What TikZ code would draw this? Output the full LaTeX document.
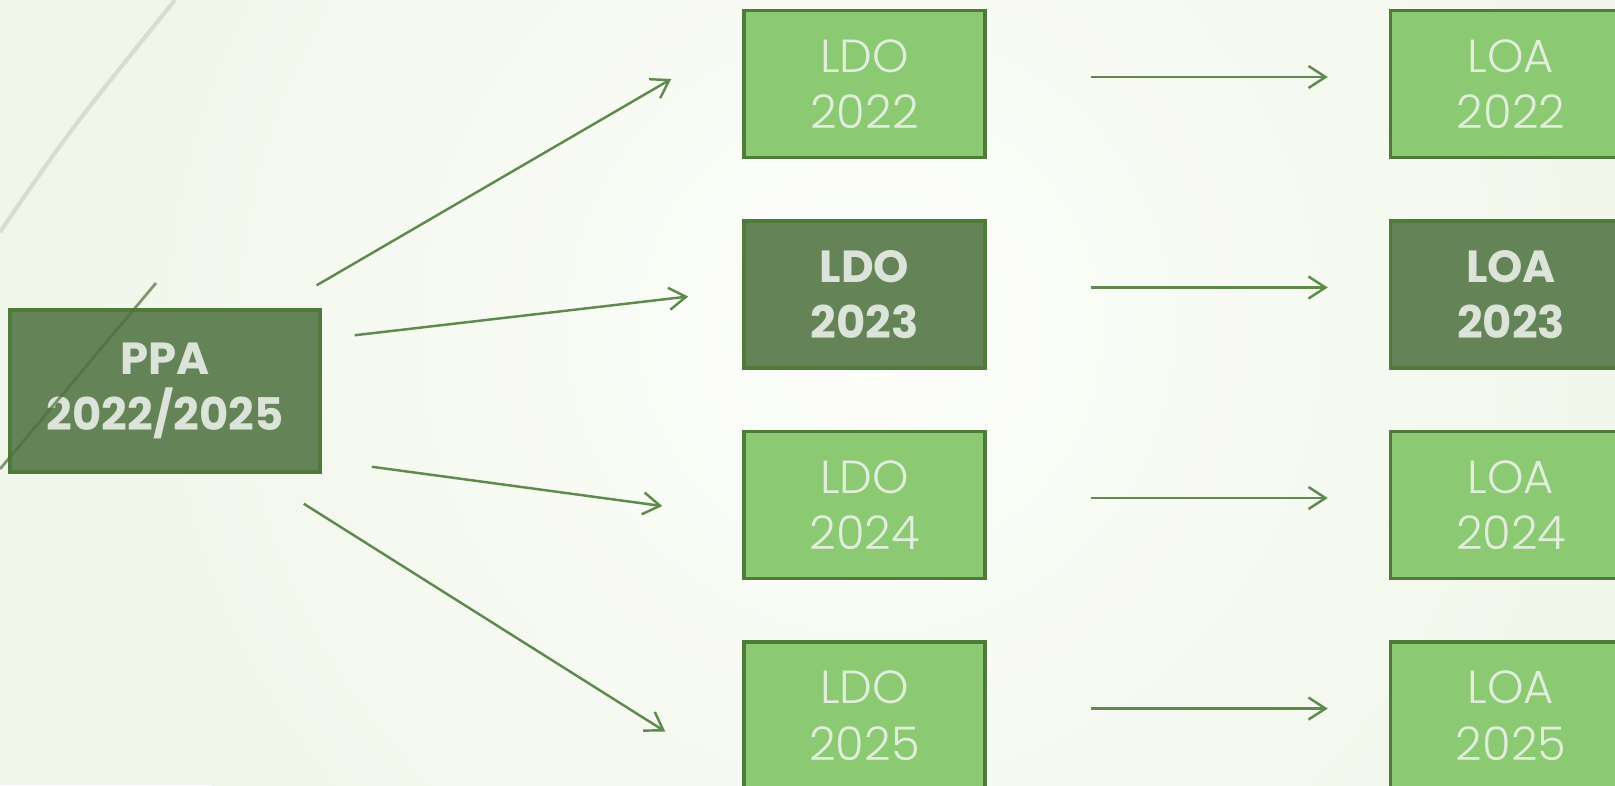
\documentclass[tikz,border=0pt]{standalone}
\usepackage{fontspec}
\setmainfont{Poppins}
\newfontfamily\lightfont{Poppins}[UprightFont={* Light}]
\usepackage{xcolor}
\usetikzlibrary{arrows.meta, positioning, calc}

\definecolor{bgouter}{HTML}{F1F6EA}
\definecolor{bginner}{HTML}{FDFEFB}
\definecolor{boxlight}{HTML}{8BC972}
\definecolor{boxdark}{HTML}{648458}
\definecolor{boxedge}{HTML}{4E7A3A}
\definecolor{textlight}{HTML}{E2EEDC}
\definecolor{textdark}{HTML}{DCE4D9}
\definecolor{arrowgreen}{HTML}{5E8A4E}
\definecolor{decolight}{HTML}{D6DFCD}
\definecolor{decodark}{HTML}{50703F}

\begin{document}
\begin{tikzpicture}[
		node distance=0.60cm and 4.02cm,
		yearbox/.style={rectangle, draw=boxedge, line width=1pt, fill=boxlight, minimum width=2.41cm, minimum height=1.47cm, align=center, text=textlight, font=\lightfont\fontsize{13.2}{16}\selectfont},
		keybox/.style={yearbox, fill=boxdark, text=textdark, font=\bfseries\fontsize{12.8}{16}\selectfont},
		arrow/.style={-{Straight Barb[length=0.17cm, width=0.22cm]}, draw=arrowgreen, line width=0.7pt}
		]
		
		% Background
		\fill[bgouter] (0,0) rectangle (16.15,7.85);
		\begin{scope}
			\clip (0,0) rectangle (16.15,7.85);
			\shade[inner color=bginner, outer color=bgouter] (8.7,4.55) circle (8cm);
		\end{scope}
		\useasboundingbox (0,0) rectangle (16.15,7.85);
		\draw[decolight, line width=1.2pt] (0,5.53) .. controls (0.7,6.55) .. (1.75,7.85);
		
		% Plan
		\node[keybox, minimum width=3.10cm, minimum height=1.62cm] (ppa) at (1.65,3.94) {PPA\\2022/2025};
		\draw[decodark, opacity=0.7, line width=0.8pt] (1.56,5.02) -- (0,3.16);
		
		% LDO
		\node[yearbox] (ldo1) at (8.645,7.01) {LDO\\2022};
		\node[keybox, below=of ldo1] (ldo2) {LDO\\2023};
		\node[yearbox, below=of ldo2] (ldo3) {LDO\\2024};
		\node[yearbox, below=of ldo3] (ldo4) {LDO\\2025};
		
		% LOA
		\node[yearbox, right=of ldo1] (loa1) {LOA\\2022};
		\node[keybox, right=of ldo2] (loa2) {LOA\\2023};
		\node[yearbox, right=of ldo3] (loa3) {LOA\\2024};
		\node[yearbox, right=of ldo4] (loa4) {LOA\\2025};
		
		% Arrows
		\draw[arrow] ([xshift=-0.05cm, yshift=0.23cm]ppa.north east) -- ([xshift=-0.71cm, yshift=0.05cm]ldo1.west);
		\draw[arrow] ([xshift=0.33cm, yshift=-0.27cm]ppa.north east) -- ([xshift=-0.54cm, yshift=-0.02cm]ldo2.west);
		\draw[arrow] ([xshift=0.50cm, yshift=0.07cm]ppa.south east) -- ([xshift=-0.80cm, yshift=-0.01cm]ldo3.west);
		\draw[arrow] ([xshift=-0.18cm, yshift=-0.30cm]ppa.south east) -- ([xshift=-0.77cm, yshift=-0.16cm]ldo4.west);
		
		\draw[arrow, shorten <=1.04cm, shorten >=0.61cm] ([yshift=0.07cm]ldo1.east) -- ([yshift=0.07cm]loa1.west);
		\draw[arrow, shorten <=1.04cm, shorten >=0.61cm] ([yshift=0.07cm]ldo2.east) -- ([yshift=0.07cm]loa2.west);
		\draw[arrow, shorten <=1.04cm, shorten >=0.61cm] ([yshift=0.07cm]ldo3.east) -- ([yshift=0.07cm]loa3.west);
		\draw[arrow, shorten <=1.04cm, shorten >=0.61cm] ([yshift=0.07cm]ldo4.east) -- ([yshift=0.07cm]loa4.west);
		
	\end{tikzpicture}
\end{document}
